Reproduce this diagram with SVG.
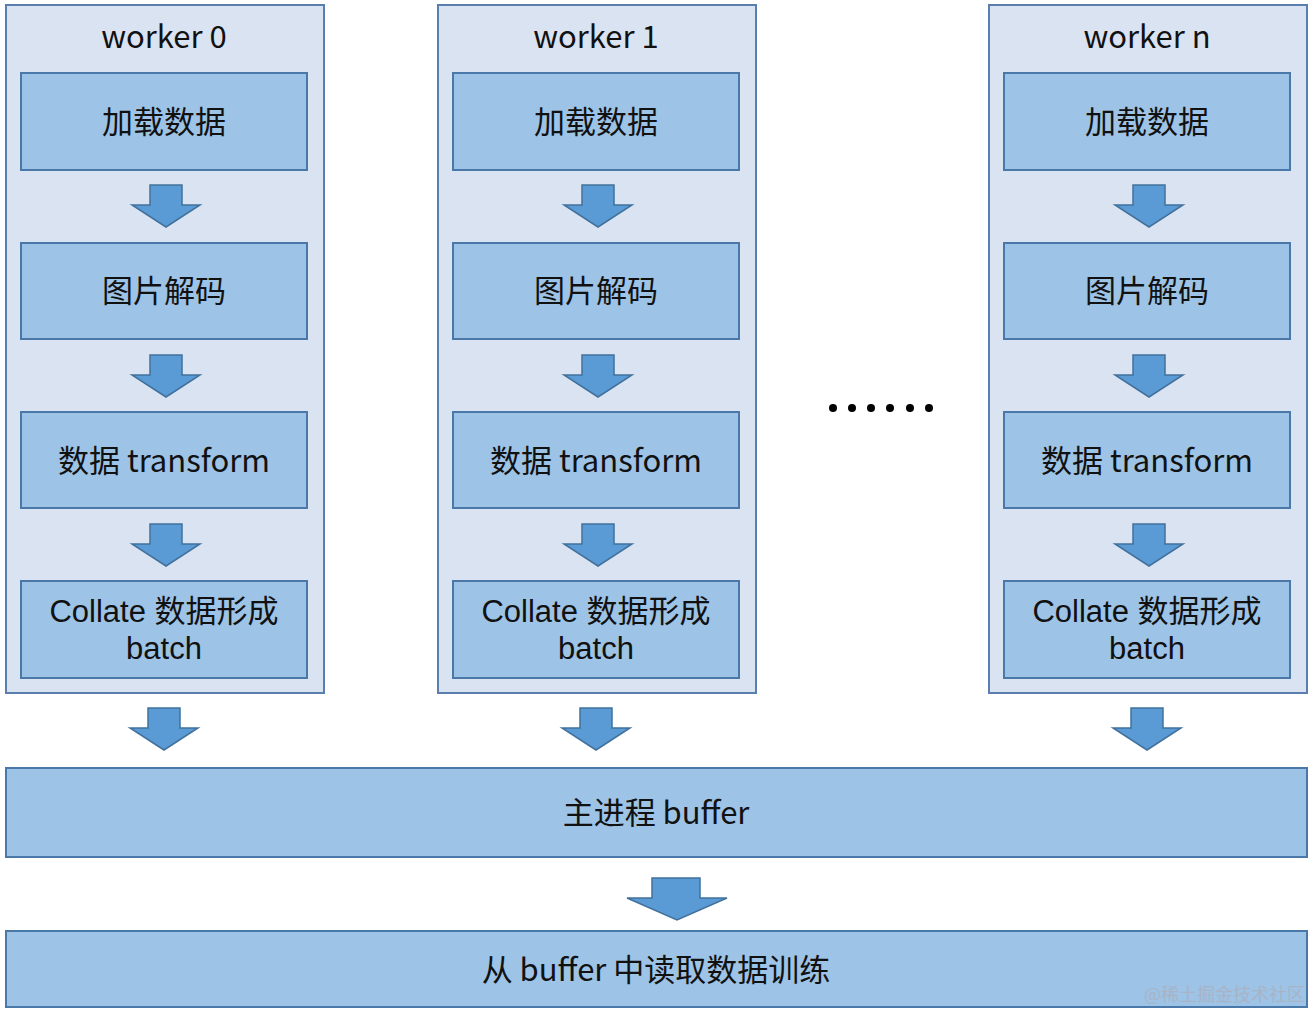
<svg xmlns="http://www.w3.org/2000/svg" width="1311" height="1011" viewBox="0 0 1311 1011">
<defs>
<style>
.outer{fill:#dae3f1;stroke:#5a7ead;stroke-width:2}
.box{fill:#9dc3e6;stroke:#4a78a8;stroke-width:2}
.arr{fill:#5b9bd5;stroke:#41719c;stroke-width:1.5;stroke-linejoin:miter}
text{font-family:"Noto Sans CJK SC","Noto Sans",sans-serif;font-size:31px;fill:#111;text-anchor:middle}
text.two{font-family:"Liberation Sans","Noto Sans CJK SC",sans-serif;font-size:31px}
.wm{font-size:18px;fill:#a8b4c6;text-anchor:end}
</style>
<path id="a" class="arr" d="M-16,0 H16 V20 H34 L0,42 L-34,20 H-16 Z"/>
</defs>
<g id="worker0">
<rect class="outer" x="6" y="5" width="318" height="688"/>
<text x="164" y="48">worker 0</text>
<g id="w0-load"><rect class="box" x="21" y="73" width="286" height="97"/><text x="164" y="133">加载数据</text></g>
<g id="w0-decode"><rect class="box" x="21" y="243" width="286" height="96"/><text x="164" y="302">图片解码</text></g>
<g id="w0-transform"><rect class="box" x="21" y="412" width="286" height="96"/><text x="164" y="472">数据 transform</text></g>
<g id="w0-collate"><rect class="box" x="21" y="581" width="286" height="97"/><text class="two" x="164" y="622">Collate 数据形成</text><text class="two" x="164" y="659">batch</text></g>
</g>
<g id="worker1">
<rect class="outer" x="438" y="5" width="318" height="688"/>
<text x="596" y="48">worker 1</text>
<g id="w1-load"><rect class="box" x="453" y="73" width="286" height="97"/><text x="596" y="133">加载数据</text></g>
<g id="w1-decode"><rect class="box" x="453" y="243" width="286" height="96"/><text x="596" y="302">图片解码</text></g>
<g id="w1-transform"><rect class="box" x="453" y="412" width="286" height="96"/><text x="596" y="472">数据 transform</text></g>
<g id="w1-collate"><rect class="box" x="453" y="581" width="286" height="97"/><text class="two" x="596" y="622">Collate 数据形成</text><text class="two" x="596" y="659">batch</text></g>
</g>
<g id="workern">
<rect class="outer" x="989" y="5" width="318" height="688"/>
<text x="1147" y="48">worker n</text>
<g id="wn-load"><rect class="box" x="1004" y="73" width="286" height="97"/><text x="1147" y="133">加载数据</text></g>
<g id="wn-decode"><rect class="box" x="1004" y="243" width="286" height="96"/><text x="1147" y="302">图片解码</text></g>
<g id="wn-transform"><rect class="box" x="1004" y="412" width="286" height="96"/><text x="1147" y="472">数据 transform</text></g>
<g id="wn-collate"><rect class="box" x="1004" y="581" width="286" height="97"/><text class="two" x="1147" y="622">Collate 数据形成</text><text class="two" x="1147" y="659">batch</text></g>
</g>
<g id="dots" fill="#000">
<circle cx="833" cy="408" r="4"/><circle cx="852" cy="408" r="4"/><circle cx="871" cy="408" r="4"/><circle cx="890" cy="408" r="4"/><circle cx="910" cy="408" r="4"/><circle cx="929" cy="408" r="4"/>
</g>
<g id="buffer"><rect class="box" x="6" y="768" width="1301" height="89"/><text x="656" y="824">主进程 buffer</text></g>
<g id="train"><rect class="box" x="6" y="931" width="1301" height="76"/><text x="656" y="981">从 buffer 中读取数据训练</text></g>
<g id="connectors">
<use href="#a" x="166" y="185"/><use href="#a" x="166" y="355"/><use href="#a" x="166" y="524"/>
<use href="#a" x="598" y="185"/><use href="#a" x="598" y="355"/><use href="#a" x="598" y="524"/>
<use href="#a" x="1149" y="185"/><use href="#a" x="1149" y="355"/><use href="#a" x="1149" y="524"/>
<use href="#a" x="164" y="708"/><use href="#a" x="596" y="708"/><use href="#a" x="1147" y="708"/>
<path class="arr" d="M652,878 H700 V898 H727 L677,920 L627,898 H652 Z"/>
</g>
<text class="wm" x="1305" y="1001">@稀土掘金技术社区</text>
</svg>
